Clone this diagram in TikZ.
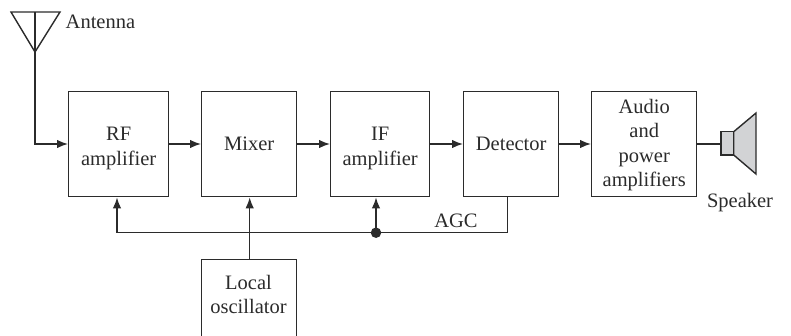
\documentclass[tikz,border=0pt]{standalone}
\usepackage{fontspec}
\setmainfont{Liberation Serif}
\usetikzlibrary{arrows.meta}
\definecolor{ink}{HTML}{2B2B2B}
\definecolor{conefill}{HTML}{D2D3D5}
\tikzset{
  blockbox/.style={draw=ink,line width=1.4pt,inner sep=0pt,anchor=north west,align=center,font=\fontsize{20.5}{24.5}\selectfont,text=ink},
  wire/.style={draw=ink,line width=1.4pt},
  arrowwire/.style={wire,-{Latex[length=11pt,width=8.5pt]}},
  lbl/.style={inner sep=0pt,font=\fontsize{20.5}{24.5}\selectfont,text=ink},
  dotnode/.style={circle,fill=ink,inner sep=0pt,minimum size=10.5pt}
}
\begin{document}
\begin{tikzpicture}[x=1pt,y=-1pt]
\useasboundingbox (0,0) rectangle (791,335);
\node[blockbox,minimum width=100pt,minimum height=105pt] (rf) at (68,91) {\rule{0pt}{21.5pt}RF\\amplifier};
\node[blockbox,minimum width=95pt,minimum height=105pt] (mix) at (201,91) {Mixer};
\node[blockbox,minimum width=99pt,minimum height=105pt] (if) at (330,91) {\rule{0pt}{21.5pt}IF\\amplifier};
\node[blockbox,minimum width=95pt,minimum height=105pt] (det) at (463,91) {Detector};
\node[blockbox,minimum width=105pt,minimum height=105pt] (aud) at (591,91) {\rule{0pt}{16pt}Audio\\and\\power\\amplifiers};
\node[draw=ink,line width=1.4pt,minimum width=95pt,minimum height=90pt,inner sep=0pt,anchor=north west] (lo) at (201,259) {};
\node[lbl,align=center,anchor=north] (lot) at (248.5,275) {Local\\oscillator};
% antenna
\coordinate (a1) at (11,12);
\coordinate (a2) at (60,12);
\coordinate (a3) at (35,52);
\coordinate (atop) at (35,12);
\coordinate (acorner) at (35,144);
\draw[wire,line join=miter] (a1) -- (a2) -- (a3) -- cycle;
\draw[wire] (atop) -- (a3);
\draw[arrowwire] (a3) -- (acorner) -- (rf.west|-acorner);
\node[lbl,anchor=base west] (ant) at (65.5,28) {Antenna};
% chain
\draw[arrowwire] (rf.east|-acorner) -- (mix.west|-acorner);
\draw[arrowwire] (mix.east|-acorner) -- (if.west|-acorner);
\draw[arrowwire] (if.east|-acorner) -- (det.west|-acorner);
\draw[arrowwire] (det.east|-acorner) -- (aud.west|-acorner);
% speaker
\coordinate (s1) at (721,131.7);
\coordinate (s2) at (733.7,155);
\coordinate (c1) at (733.7,131.7);
\coordinate (c2) at (756,113);
\coordinate (c3) at (756,174);
\coordinate (c4) at (733.7,155);
\draw[wire,fill=conefill] (c1) -- (c2) -- (c3) -- (c4) -- cycle;
\draw[wire,fill=conefill] (s1) rectangle (s2);
\draw[wire] (aud.east|-acorner) -- (s1|-acorner);
\node[lbl,anchor=base] (spk) at (740,207) {Speaker};
% AGC
\coordinate (busr) at (507.7,232.7);
\coordinate (busl) at (117,232.7);
\node[dotnode] (j) at (376,232.7) {};
\draw[wire] (busr|-det.south) -- (busr) -- (j.center);
\draw[arrowwire] (j.center) -- (busl) -- (busl|-rf.south);
\draw[arrowwire] (j.center) -- (j.center|-if.south);
\draw[arrowwire] (lo.north-|249.7,0) -- (mix.south-|249.7,0);
\node[lbl,anchor=base] (agc) at (456,227) {AGC};
\end{tikzpicture}
\end{document}
